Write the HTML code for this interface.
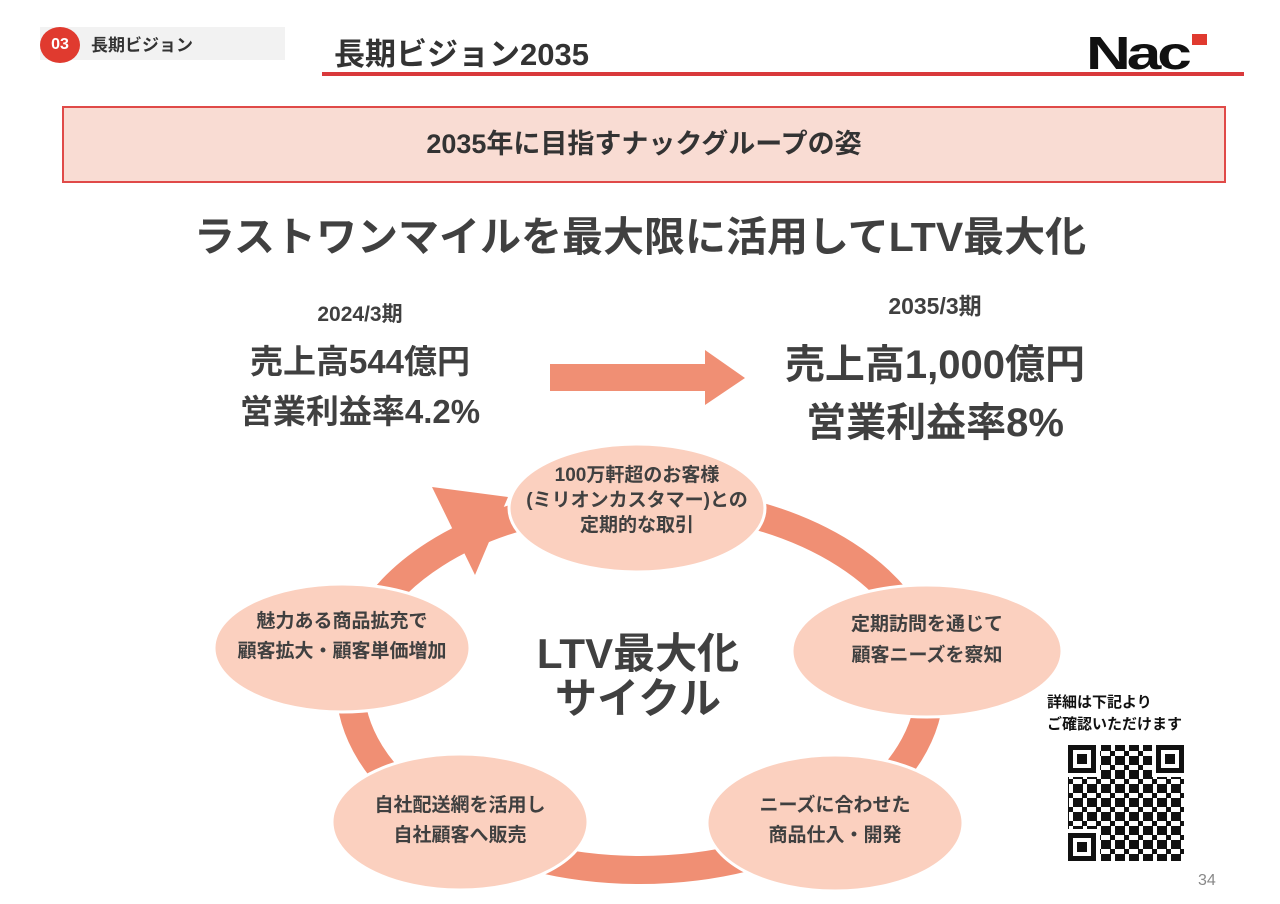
<!DOCTYPE html>
<html><head><meta charset="utf-8"><style>
body{margin:0;width:1280px;height:904px;background:#fff;position:relative;overflow:hidden;font-family:"Liberation Sans","Noto Sans CJK JP",sans-serif;color:#404040;font-weight:bold}
.a{position:absolute;white-space:nowrap}
</style></head><body>
<div class="a" style="left:40px;top:27px;width:245px;height:33px;background:#f2f2f2"></div>
<div class="a" style="left:40px;top:27px;width:40px;height:36px;border-radius:50%;background:#e03a2f;color:#fff;font-size:16px;line-height:36px;text-align:center">03</div>
<div class="a" style="left:91px;top:31px;font-size:17px;color:#333">長期ビジョン</div>
<div class="a" style="left:334px;top:29px;font-size:31px;color:#333">長期ビジョン2035</div>
<div class="a" style="left:322px;top:72px;width:922px;height:4px;background:#d9393b"></div>
<div class="a" style="left:1086px;top:30px;font-size:46px;line-height:46px;font-family:'Liberation Sans',sans-serif;font-weight:900;color:#111;letter-spacing:-3px;transform:scaleX(1.35);transform-origin:left">Nac</div>
<div class="a" style="left:1192px;top:34px;width:15px;height:11px;background:#e03a2f"></div>
<div class="a" style="left:62px;top:106px;width:1160px;height:73px;background:#f9dcd3;border:2px solid #e04a48;text-align:center;line-height:73px;font-size:27px;color:#333">2035年に目指すナックグループの姿</div>
<div class="a" style="left:0;width:1280px;top:203px;text-align:center;font-size:41px;color:#404040">ラストワンマイルを最大限に活用してLTV最大化</div>
<div class="a" style="left:260px;width:200px;top:298px;text-align:center;font-size:21px;color:#404040">2024/3期</div>
<div class="a" style="left:200px;width:320px;top:337px;text-align:center;font-size:33px;line-height:50px">売上高544億円<br>営業利益率4.2%</div>
<div class="a" style="left:835px;width:200px;top:287px;text-align:center;font-size:23px">2035/3期</div>
<div class="a" style="left:735px;width:400px;top:336px;text-align:center;font-size:40px;line-height:58px">売上高1,000億円<br>営業利益率8%</div>
<svg class="a" style="left:0;top:0" width="1280" height="904">
<polygon points="550,364 705,364 705,350 745,378 705,405 705,391 550,391" fill="#f08f74"/>
<ellipse cx="640" cy="685" rx="290" ry="185" fill="none" stroke="#f08f74" stroke-width="28"/>
<polygon points="432,487 508,497 475,575" fill="#f08f74"/>
<g fill="#fbd0bf" stroke="#fff" stroke-width="3">
<ellipse cx="637" cy="508" rx="128" ry="64"/>
<ellipse cx="342" cy="648" rx="128" ry="64"/>
<ellipse cx="927" cy="651" rx="135" ry="66"/>
<ellipse cx="460" cy="822" rx="128" ry="68"/>
<ellipse cx="835" cy="823" rx="128" ry="68"/>
</g>
<g font-size="19" fill="#404040" text-anchor="middle" font-weight="bold">
<text x="637" y="481">100万軒超のお客様</text>
<text x="637" y="506">(ミリオンカスタマー)との</text>
<text x="637" y="531">定期的な取引</text>
<text x="342" y="627">魅力ある商品拡充で</text>
<text x="342" y="657">顧客拡大・顧客単価増加</text>
<text x="927" y="630">定期訪問を通じて</text>
<text x="927" y="661">顧客ニーズを察知</text>
<text x="460" y="811">自社配送網を活用し</text>
<text x="460" y="841">自社顧客へ販売</text>
<text x="835" y="811">ニーズに合わせた</text>
<text x="835" y="841">商品仕入・開発</text>
</g>
<g font-size="42" fill="#404040" text-anchor="middle" font-weight="bold">
<text x="638" y="668">LTV最大化</text>
<text x="638" y="713">サイクル</text>
</g>
<defs><pattern id="q" width="14" height="14" patternUnits="userSpaceOnUse">
<rect x="0" y="0" width="5" height="5" fill="#111"/><rect x="9" y="0" width="5" height="9" fill="#111"/><rect x="4" y="9" width="5" height="5" fill="#111"/><rect x="0" y="5" width="5" height="4" fill="#111"/></pattern></defs>
<rect x="1068" y="745" width="116" height="116" fill="url(#q)"/>
<g fill="#fff"><rect x="1066" y="743" width="34" height="34"/><rect x="1152" y="743" width="34" height="34"/><rect x="1066" y="829" width="34" height="34"/></g>
<g fill="none" stroke="#111" stroke-width="5"><rect x="1070.5" y="747.5" width="23" height="23"/><rect x="1158.5" y="747.5" width="23" height="23"/><rect x="1070.5" y="835.5" width="23" height="23"/></g>
<g fill="#111"><rect x="1077" y="754" width="10" height="10"/><rect x="1165" y="754" width="10" height="10"/><rect x="1077" y="842" width="10" height="10"/></g>
</svg>
<div class="a" style="left:1047px;top:692px;font-size:15px;line-height:22px;color:#111">詳細は下記より<br>ご確認いただけます</div>
<div class="a" style="left:1198px;top:872px;font-size:16px;color:#888;font-weight:normal">34</div>
</body></html>
